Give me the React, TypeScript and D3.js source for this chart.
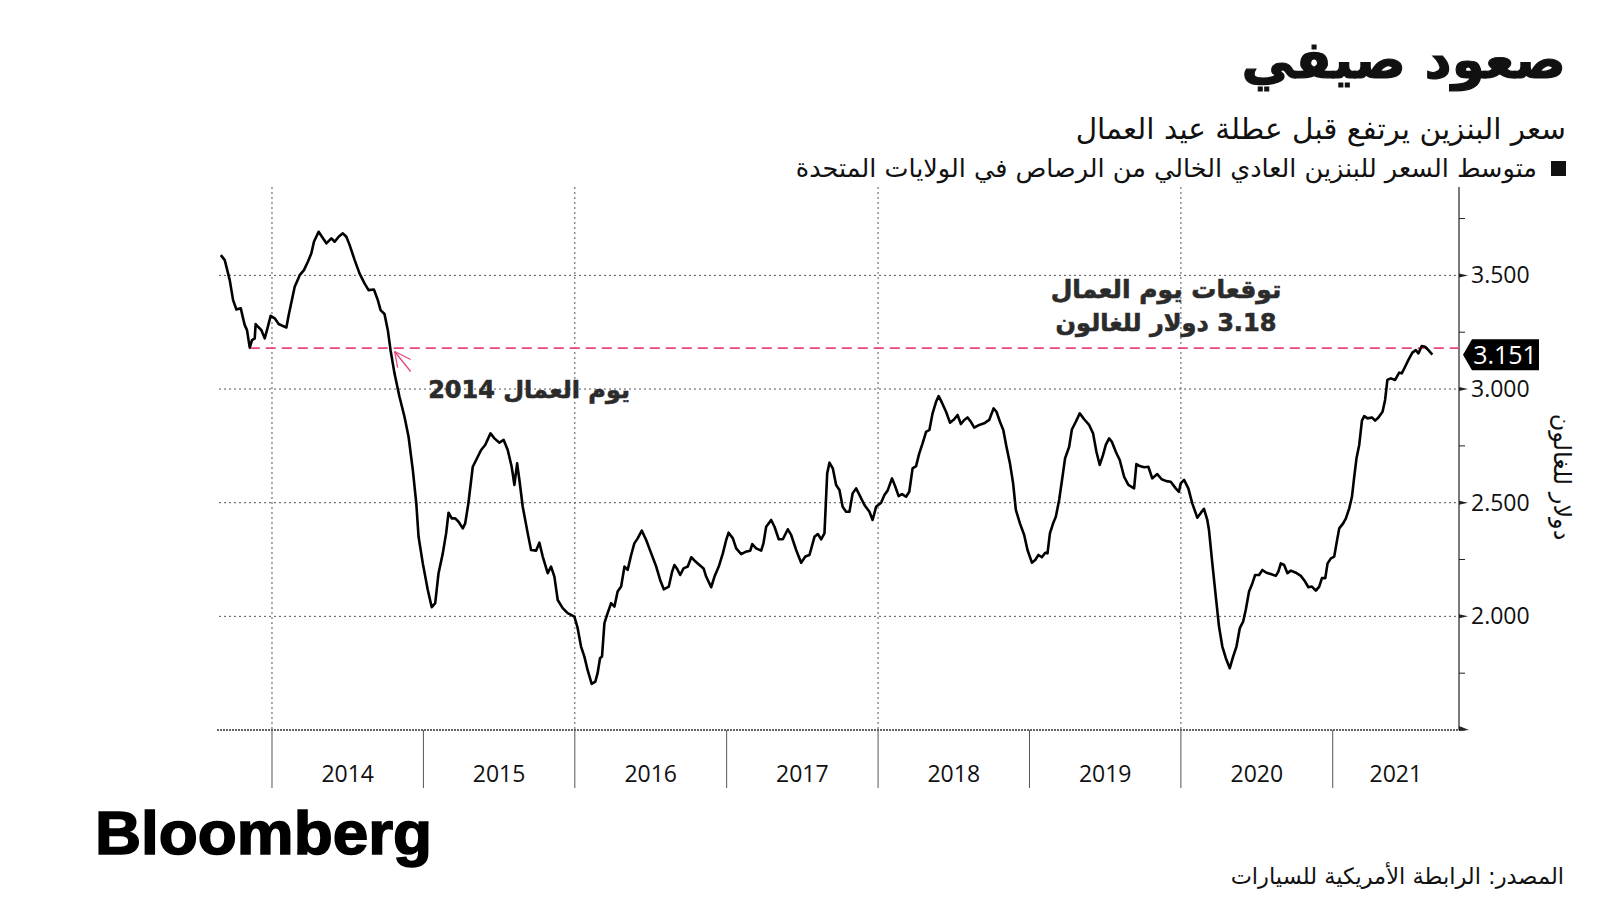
import React from 'react';
import * as d3 from 'd3';

// ---------- DATA ----------
// weekly average US regular unleaded gasoline price, $/gallon (decimal-year timestamps)
const tYears = [
  2013.662, 2013.688, 2013.721, 2013.743, 2013.765, 2013.794, 2013.809, 2013.820, 2013.835, 2013.853,
  2013.868, 2013.886, 2013.892, 2013.908, 2013.930, 2013.952, 2013.970, 2013.991, 2014.018, 2014.044,
  2014.073, 2014.095, 2014.110, 2014.150, 2014.183, 2014.211, 2014.237, 2014.260, 2014.277, 2014.308,
  2014.330, 2014.359, 2014.392, 2014.414, 2014.440, 2014.468, 2014.491, 2014.513, 2014.546, 2014.578,
  2014.611, 2014.638, 2014.673, 2014.699, 2014.717, 2014.743, 2014.765, 2014.783, 2014.809, 2014.842,
  2014.875, 2014.902, 2014.930, 2014.953, 2014.968, 2014.996, 2015.029, 2015.055, 2015.078, 2015.100,
  2015.128, 2015.150, 2015.166, 2015.187, 2015.210, 2015.232, 2015.260, 2015.276, 2015.297, 2015.326,
  2015.359, 2015.381, 2015.408, 2015.443, 2015.469, 2015.502, 2015.530, 2015.557, 2015.583, 2015.601,
  2015.619, 2015.634, 2015.656, 2015.689, 2015.711, 2015.744, 2015.766, 2015.788, 2015.821, 2015.843,
  2015.865, 2015.887, 2015.920, 2015.953, 2015.997, 2016.018, 2016.041, 2016.063, 2016.084, 2016.111,
  2016.135, 2016.150, 2016.166, 2016.179, 2016.195, 2016.216, 2016.239, 2016.261, 2016.282, 2016.305,
  2016.327, 2016.348, 2016.371, 2016.392, 2016.414, 2016.441, 2016.470, 2016.503, 2016.536, 2016.562,
  2016.586, 2016.619, 2016.641, 2016.656, 2016.672, 2016.694, 2016.716, 2016.744, 2016.767, 2016.795,
  2016.821, 2016.848, 2016.865, 2016.898, 2016.920, 2016.948, 2016.975, 2016.997, 2017.013, 2017.041,
  2017.063, 2017.096, 2017.125, 2017.156, 2017.169, 2017.195, 2017.228, 2017.243, 2017.261, 2017.294,
  2017.316, 2017.344, 2017.371, 2017.404, 2017.426, 2017.459, 2017.492, 2017.520, 2017.547, 2017.580,
  2017.602, 2017.624, 2017.646, 2017.664, 2017.679, 2017.701, 2017.723, 2017.745, 2017.766, 2017.789,
  2017.811, 2017.832, 2017.855, 2017.877, 2017.910, 2017.943, 2017.964, 2017.987, 2018.020, 2018.042,
  2018.063, 2018.092, 2018.114, 2018.136, 2018.158, 2018.185, 2018.206, 2018.228, 2018.251, 2018.272,
  2018.294, 2018.317, 2018.339, 2018.360, 2018.383, 2018.400, 2018.422, 2018.449, 2018.475, 2018.503,
  2018.525, 2018.547, 2018.569, 2018.591, 2018.613, 2018.635, 2018.668, 2018.701, 2018.734, 2018.763,
  2018.782, 2018.805, 2018.827, 2018.848, 2018.871, 2018.892, 2018.910, 2018.937, 2018.965, 2018.987,
  2019.016, 2019.038, 2019.059, 2019.082, 2019.104, 2019.119, 2019.135, 2019.156, 2019.174, 2019.196,
  2019.218, 2019.235, 2019.262, 2019.280, 2019.306, 2019.332, 2019.361, 2019.394, 2019.420, 2019.442,
  2019.464, 2019.486, 2019.504, 2019.526, 2019.544, 2019.570, 2019.596, 2019.625, 2019.653, 2019.691,
  2019.706, 2019.728, 2019.757, 2019.785, 2019.811, 2019.844, 2019.873, 2019.904, 2019.933, 2019.966,
  2019.987, 2019.999, 2020.021, 2020.049, 2020.075, 2020.108, 2020.131, 2020.152, 2020.174, 2020.185,
  2020.207, 2020.230, 2020.251, 2020.273, 2020.296, 2020.322, 2020.344, 2020.366, 2020.388, 2020.410,
  2020.427, 2020.449, 2020.471, 2020.489, 2020.515, 2020.537, 2020.563, 2020.592, 2020.625, 2020.642,
  2020.658, 2020.680, 2020.702, 2020.724, 2020.757, 2020.790, 2020.818, 2020.840, 2020.863, 2020.889,
  2020.911, 2020.929, 2020.951, 2020.966, 2020.988, 2021.010, 2021.025, 2021.043, 2021.069, 2021.087,
  2021.109, 2021.127, 2021.142, 2021.157, 2021.175, 2021.193, 2021.208, 2021.230, 2021.259, 2021.280,
  2021.302, 2021.329, 2021.346, 2021.361, 2021.384, 2021.412, 2021.439, 2021.456, 2021.478, 2021.500,
  2021.526, 2021.549, 2021.566, 2021.588, 2021.610, 2021.632, 2021.658,
];
const prices = [
  3.589, 3.567, 3.479, 3.391, 3.350, 3.355, 3.311, 3.281, 3.259, 3.182,
  3.215, 3.223, 3.286, 3.274, 3.259, 3.223, 3.267, 3.322, 3.311, 3.286,
  3.277, 3.271, 3.325, 3.450, 3.501, 3.523, 3.560, 3.597, 3.648, 3.692,
  3.670, 3.641, 3.663, 3.648, 3.670, 3.685, 3.670, 3.633, 3.567, 3.509,
  3.465, 3.435, 3.438, 3.391, 3.347, 3.330, 3.259, 3.171, 3.069, 2.966,
  2.878, 2.790, 2.644, 2.497, 2.350, 2.233, 2.116, 2.040, 2.058, 2.190,
  2.277, 2.365, 2.456, 2.431, 2.431, 2.416, 2.387, 2.409, 2.497, 2.658,
  2.702, 2.732, 2.754, 2.805, 2.783, 2.764, 2.776, 2.732, 2.658, 2.578,
  2.673, 2.600, 2.482, 2.365, 2.292, 2.289, 2.324, 2.263, 2.190, 2.219,
  2.175, 2.072, 2.036, 2.014, 1.999, 1.950, 1.867, 1.823, 1.764, 1.703,
  1.713, 1.750, 1.816, 1.823, 1.970, 2.014, 2.058, 2.043, 2.109, 2.131,
  2.219, 2.204, 2.270, 2.321, 2.343, 2.377, 2.336, 2.277, 2.219, 2.160,
  2.119, 2.131, 2.197, 2.226, 2.211, 2.182, 2.211, 2.219, 2.260, 2.241,
  2.226, 2.211, 2.175, 2.128, 2.175, 2.219, 2.277, 2.336, 2.368, 2.343,
  2.299, 2.274, 2.284, 2.289, 2.318, 2.299, 2.289, 2.321, 2.394, 2.424,
  2.394, 2.339, 2.339, 2.383, 2.358, 2.292, 2.236, 2.263, 2.270, 2.350,
  2.362, 2.339, 2.365, 2.629, 2.676, 2.651, 2.578, 2.556, 2.482, 2.460,
  2.460, 2.541, 2.563, 2.534, 2.490, 2.460, 2.424, 2.482, 2.500, 2.534,
  2.553, 2.607, 2.570, 2.529, 2.538, 2.526, 2.548, 2.651, 2.661, 2.717,
  2.761, 2.812, 2.820, 2.893, 2.944, 2.969, 2.940, 2.900, 2.852, 2.867,
  2.886, 2.846, 2.864, 2.875, 2.856, 2.830, 2.842, 2.849, 2.864, 2.915,
  2.900, 2.856, 2.820, 2.746, 2.673, 2.585, 2.468, 2.409, 2.358, 2.292,
  2.236, 2.248, 2.270, 2.260, 2.280, 2.277, 2.365, 2.409, 2.438, 2.512,
  2.614, 2.695, 2.746, 2.822, 2.856, 2.893, 2.867, 2.842, 2.805, 2.724,
  2.666, 2.710, 2.754, 2.783, 2.768, 2.724, 2.688, 2.614, 2.578, 2.563,
  2.670, 2.661, 2.656, 2.658, 2.607, 2.626, 2.603, 2.595, 2.592, 2.563,
  2.548, 2.585, 2.600, 2.563, 2.497, 2.434, 2.455, 2.473, 2.424, 2.380,
  2.233, 2.087, 1.955, 1.867, 1.816, 1.772, 1.823, 1.867, 1.948, 1.977,
  2.028, 2.109, 2.146, 2.182, 2.182, 2.204, 2.192, 2.186, 2.178, 2.197,
  2.233, 2.226, 2.190, 2.201, 2.192, 2.178, 2.153, 2.128, 2.131, 2.113,
  2.131, 2.168, 2.168, 2.233, 2.255, 2.263, 2.321, 2.387, 2.409, 2.431,
  2.475, 2.526, 2.614, 2.695, 2.754, 2.861, 2.881, 2.871, 2.875, 2.861,
  2.875, 2.900, 2.952, 3.040, 3.047, 3.040, 3.072, 3.069, 3.098, 3.128,
  3.160, 3.171, 3.157, 3.189, 3.186, 3.171, 3.151,
];

const yearLabels = ['2014', '2015', '2016', '2017', '2018', '2019', '2020', '2021'];
const yMajorTicks = [2.0, 2.5, 3.0, 3.5];
const yMinorTicks = [1.5, 1.75, 2.25, 2.75, 3.25, 3.75];
const yTickLabels = ['2.000', '2.500', '3.000', '3.500'];
const gridYears = [2014, 2016, 2018, 2020];
const xDomainYears = [2013.65, 2021.834];
const yDomain = [1.5, 3.88];

const laborDayForecast = 3.18;
const refLineStartYear = 2013.853;
const arrowYear = 2014.81;
const lastValue = 3.151;
const lastValueLabel = '3.151';

const title = 'صعود صيفي';
const subtitle = 'سعر البنزين يرتفع قبل عطلة عيد العمال';
const legendText = 'متوسط السعر للبنزين العادي الخالي من الرصاص في الولايات المتحدة';
const yAxisTitle = 'دولار للغالون';
const note2014 = 'يوم العمال 2014';
const forecastLine1 = 'توقعات يوم العمال';
const forecastLine2 = '3.18 دولار للغالون';
const sourceText = 'المصدر: الرابطة الأمريكية للسيارات';

// ---------- HELPERS ----------
function decToDate(t: number): Date {
  const y = Math.floor(t);
  const s = Date.UTC(y, 0, 1);
  const e = Date.UTC(y + 1, 0, 1);
  return new Date(s + (t - y) * (e - s));
}

const AR = '"DejaVu Sans", "Noto Sans", sans-serif';
const NUM = '"Open Sans", "DejaVu Sans", sans-serif';
const PINK = '#e8467c';

export default function App() {
  const left = 219, right = 1459, top = 189, bottom = 730;
  const x = d3.scaleUtc().domain(xDomainYears.map(decToDate)).range([left, right]);
  const y = d3.scaleLinear().domain(yDomain).range([bottom, top]);

  const data = tYears.map((t, i) => ({ date: decToDate(t), v: prices[i] }));
  const line = d3.line<{ date: Date; v: number }>()
    .x(d => x(d.date))
    .y(d => y(d.v));

  const yearStarts = yearLabels.map(l => Date.UTC(+l, 0, 1));
  const axisTop = top - 2;

  const refY = y(laborDayForecast);
  const refX0 = x(decToDate(refLineStartYear));
  const tipX = x(decToDate(arrowYear));
  const tipY = y(laborDayForecast - 0.015);

  const lvY = y(lastValue);

  return (
    <svg width={1600} height={900} style={{ display: 'block', position: 'absolute', left: 0, top: 0, background: '#fff' }}>
      <rect x={0} y={0} width={1600} height={900} fill="#fff" />

      {/* Titles */}
      <text x={1566} y={78} direction="rtl" textAnchor="start" fontFamily={AR} fontWeight={700} fontSize={53} fill="#111" stroke="#111" strokeWidth={1.2}>{title}</text>
      <text x={1566} y={139} direction="rtl" textAnchor="start" fontFamily={AR} fontSize={29.5} fill="#111">{subtitle}</text>
      <rect x={1551} y={161} width={15} height={15} fill="#111" />
      <text x={1537} y={177} direction="rtl" textAnchor="start" fontFamily={AR} fontSize={25.5} fill="#111">{legendText}</text>

      {/* horizontal gridlines */}
      {yMajorTicks.map(v => (
        <line key={'hg' + v} x1={left} x2={right} y1={y(v)} y2={y(v)} stroke="#555" strokeWidth={1} strokeDasharray="2,3" />
      ))}
      {/* vertical gridlines */}
      {gridYears.map(yr => {
        const gx = x(new Date(Date.UTC(yr, 0, 1)));
        return <line key={'vg' + yr} x1={gx} x2={gx} y1={axisTop} y2={bottom} stroke="#555" strokeWidth={1} strokeDasharray="2,3" />;
      })}

      {/* bottom axis */}
      <line x1={left - 2} x2={right} y1={bottom} y2={bottom} stroke="#333" strokeWidth={1.5} strokeDasharray="2,1" />
      {yearStarts.map((ms, i) => {
        const tx = x(new Date(ms));
        const next = i < yearStarts.length - 1 ? x(new Date(yearStarts[i + 1])) : right;
        return (
          <g key={'yr' + i}>
            <line x1={tx} x2={tx} y1={bottom} y2={788} stroke="#555" strokeWidth={1} />
            <text x={(tx + next) / 2} y={782} textAnchor="middle" fontFamily={NUM} fontSize={23} fill="#111">{yearLabels[i]}</text>
          </g>
        );
      })}

      {/* right axis */}
      <line x1={right} x2={right} y1={axisTop} y2={bottom} stroke="#222" strokeWidth={1.2} />
      <path d={`M${right},${bottom - 4} L${right + 10},${bottom} L${right},${bottom + 1} Z`} fill="#222" />
      {yMinorTicks.map(v => (
        <line key={'mt' + v} x1={right} x2={right + 6} y1={y(v)} y2={y(v)} stroke="#222" strokeWidth={1} />
      ))}
      {yMajorTicks.map((v, i) => (
        <g key={'yt' + v}>
          <path d={`M${right},${y(v) - 2} L${right + 9},${y(v)} L${right},${y(v) + 2} Z`} fill="#222" />
          <text x={1471} y={y(v) + 8} fontFamily={NUM} fontSize={23} fill="#111">{yTickLabels[i]}</text>
        </g>
      ))}
      <text transform={`translate(1554,477) rotate(90)`} direction="rtl" textAnchor="middle" fontFamily={AR} fontSize={24} fill="#111">{yAxisTitle}</text>

      {/* forecast reference line */}
      <line x1={refX0} x2={right} y1={refY} y2={refY} stroke={PINK} strokeWidth={1.6} strokeDasharray="10,6" />

      {/* price line */}
      <path d={line(data) || ''} fill="none" stroke="#000" strokeWidth={2.6} strokeLinejoin="round" />

      {/* last value label */}
      <path d={`M${right + 4},${lvY} L${right + 13},${lvY - 15.5} L${right + 80},${lvY - 15.5} L${right + 80},${lvY + 15.5} L${right + 13},${lvY + 15.5} Z`} fill="#000" />
      <text x={right + 46} y={lvY + 9} textAnchor="middle" fontFamily={NUM} fontSize={25} fill="#fff">{lastValueLabel}</text>

      {/* annotations */}
      <g stroke={PINK} strokeWidth={1.3} fill="none">
        <line x1={tipX} y1={tipY} x2={tipX + 16} y2={tipY + 20} />
        <line x1={tipX} y1={tipY} x2={tipX + 16} y2={tipY + 8} />
        <line x1={tipX} y1={tipY} x2={tipX + 3} y2={tipY + 16} />
      </g>
      <text x={630} y={398} direction="rtl" textAnchor="start" fontFamily={AR} fontWeight={700} fontSize={24} fill="#2b2b2b" stroke="#2b2b2b" strokeWidth={0.6}>{note2014}</text>
      <text x={1166} y={298} direction="rtl" textAnchor="middle" fontFamily={AR} fontWeight={700} fontSize={25} fill="#2b2b2b" stroke="#2b2b2b" strokeWidth={0.6}>{forecastLine1}</text>
      <text x={1166} y={331} direction="rtl" textAnchor="middle" fontFamily={AR} fontWeight={700} fontSize={24} fill="#2b2b2b" stroke="#2b2b2b" strokeWidth={0.6}>{forecastLine2}</text>

      {/* footer */}
      <text x={95} y={854} fontFamily='"Liberation Sans", Arial, sans-serif' fontWeight={700} fontSize={62} textLength={337} lengthAdjust="spacingAndGlyphs" fill="#000" stroke="#000" strokeWidth={1.6}>Bloomberg</text>
      <text x={1564} y={884} direction="rtl" textAnchor="start" fontFamily={AR} fontSize={22.5} fill="#111">{sourceText}</text>
    </svg>
  );
}
